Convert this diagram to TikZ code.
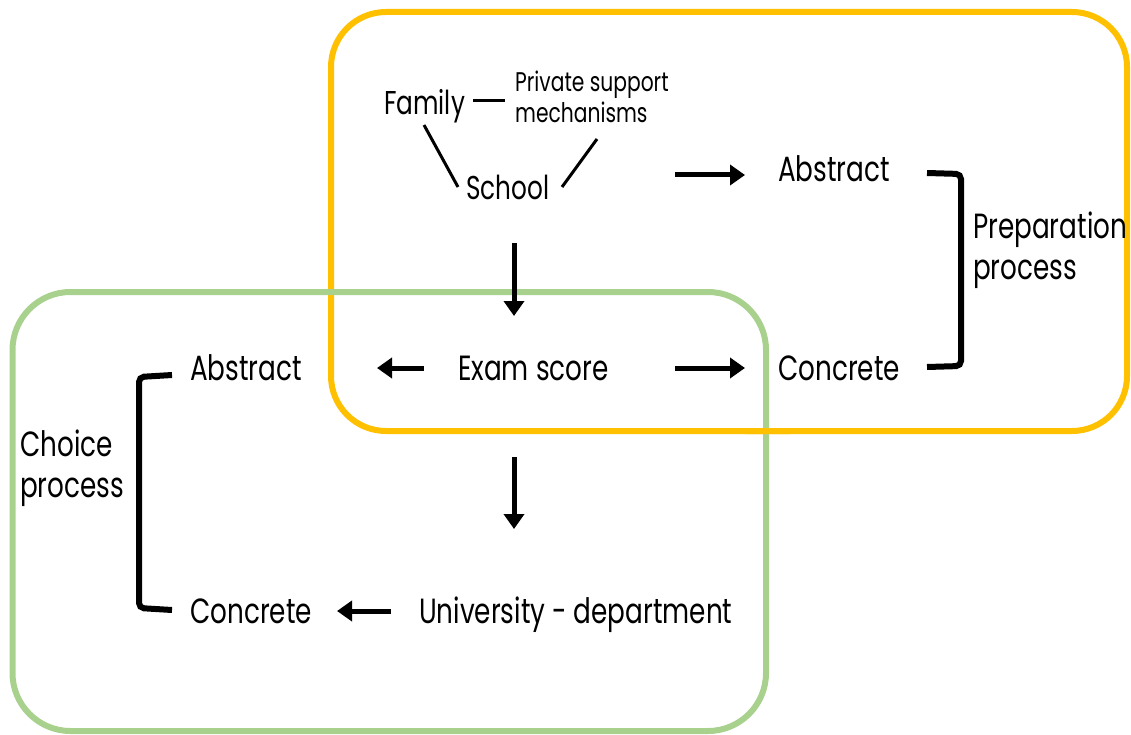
\documentclass[tikz,border=0pt]{standalone}
\usepackage{fontspec}
\setmainfont{Poppins}[FakeStretch=0.75]
\usetikzlibrary{arrows.meta}
\definecolor{boxyellow}{HTML}{FFC000}
\definecolor{boxgreen}{HTML}{A9D18E}
\tikzset{
  lbl/.style={anchor=base west, inner sep=0pt, font=\fontsize{35}{41}\selectfont},
  lblsm/.style={anchor=base west, inner sep=0pt, font=\fontsize{33}{40}\selectfont},
  lbltiny/.style={anchor=base west, inner sep=0pt, align=left, font=\fontsize{27}{31}\selectfont},
  arr/.style={line width=5pt, -{Triangle[length=15pt,width=20pt]}},
  link/.style={line width=3pt},
  brk/.style={line width=6pt, rounded corners=5pt},
  ybox/.style={draw=boxyellow, line width=6pt, rounded corners=55pt},
  gbox/.style={draw=boxgreen, line width=6pt, rounded corners=58pt},
}
\begin{document}
\begin{tikzpicture}[x=1pt,y=-1pt]
\useasboundingbox (0,0) rectangle (1131,735);
% frames
\draw[ybox] (331,12) rectangle (1127,431);
\draw[gbox] (12.5,292) rectangle (766,731);
\begin{scope}
  \clip (745,410) rectangle (790,450);
  \draw[ybox] (331,12) rectangle (1127,431);
\end{scope}
% labels
\node[lblsm] (family) at (384,115) {Family};
\node[lbltiny] (private) at (515,123) {Private support\\mechanisms};
\node[lblsm] (school) at (466,200) {School};
\node[lbl] (absR) at (778,182) {Abstract};
\node[lbl] (concR) at (778,380) {Concrete};
\node[lbl] (exam) at (458,380) {Exam score};
\node[lbl, align=left] (prep) at (973,279) {Preparation\\process};
\node[lbl] (absL) at (190,380) {Abstract};
\node[lbl] (concL) at (190,623) {Concrete};
\node[lbl] (univ) at (419,623) {University - department};
\node[lbl, align=left] (choice) at (20,497) {Choice\\process};
% link coordinates
\coordinate (fp1) at (473,101);
\coordinate (fp2) at (505,101);
\coordinate (fs1) at (424,125);
\coordinate (fs2) at (458,187);
\coordinate (sm1) at (562,187);
\coordinate (sm2) at (597,139);
\draw[link] (fp1) -- (fp2);
\draw[link] (fs1) -- (fs2);
\draw[link] (sm1) -- (sm2);
% arrow coordinates
\coordinate (a1s) at (514,243); \coordinate (a1e) at (514,316);
\coordinate (a2s) at (675,175); \coordinate (a2e) at (745,175);
\coordinate (a3s) at (675,368); \coordinate (a3e) at (745,368);
\coordinate (a4s) at (424,368); \coordinate (a4e) at (377,368);
\coordinate (a5s) at (514,457); \coordinate (a5e) at (514,529);
\coordinate (a6s) at (391,611); \coordinate (a6e) at (337,611);
\draw[arr] (a1s) -- (a1e);
\draw[arr] (a2s) -- (a2e);
\draw[arr] (a3s) -- (a3e);
\draw[arr] (a4s) -- (a4e);
\draw[arr] (a5s) -- (a5e);
\draw[arr] (a6s) -- (a6e);
% brackets
\draw[brk] (927,173) -- (961,174) -- (961,366) -- (927,367);
\draw[brk] (172,375) -- (139,377) -- (139,608) -- (172,610);
\end{tikzpicture}
\end{document}
